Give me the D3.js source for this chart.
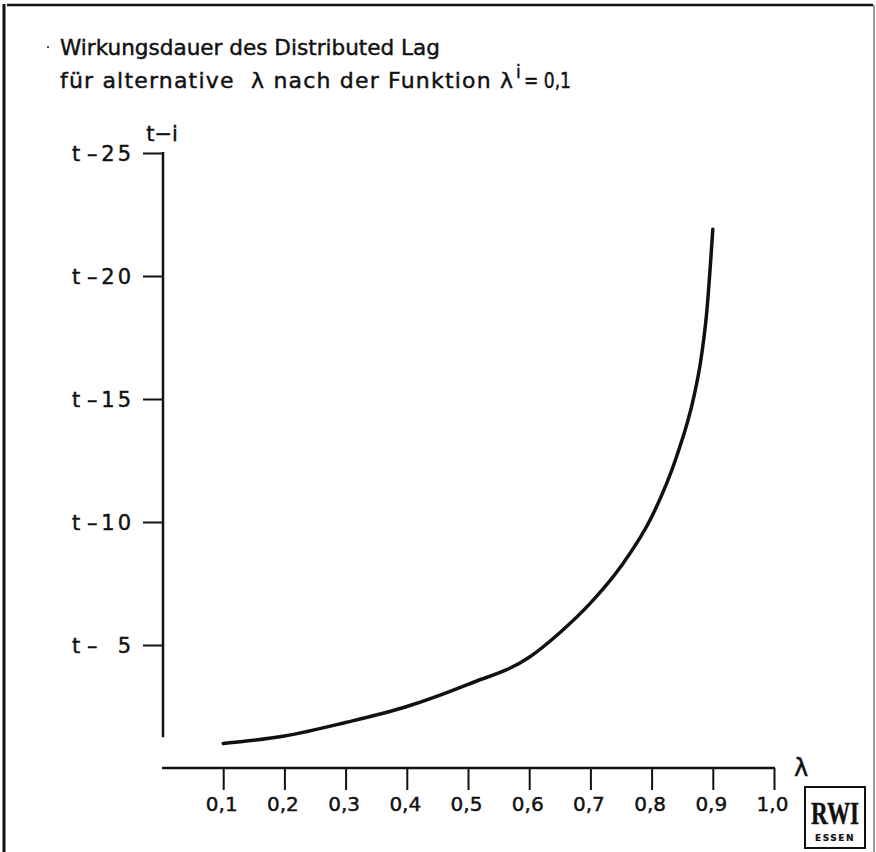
<!DOCTYPE html>
<html>
<head>
<meta charset="utf-8">
<script src="https://cdn.jsdelivr.net/npm/d3@7"></script>
<style>
  body { margin: 0; background: #fff; }
  svg { display: block; }
  text { font-family: "DejaVu Sans", sans-serif; fill: #111; stroke: #111; stroke-width: 0.45px; }
</style>
</head>
<body>
<div id="chart"></div>
<script>
// Values: lambda -> lag length i (lambda^i = 0,1).
const lambdas = [0.1, 0.2, 0.3, 0.4, 0.5, 0.6, 0.65, 0.7, 0.75, 0.8, 0.84, 0.87, 0.88, 0.89, 0.9];
const lags = [1.0, 1.3, 1.85, 2.5, 3.4, 4.5, 5.5, 6.7, 8.2, 10.2, 12.6, 15.2, 16.5, 18.5, 21.9];

const xTicks = [0.1, 0.2, 0.3, 0.4, 0.5, 0.6, 0.7, 0.8, 0.9, 1.0];
const xTickLabels = ['0,1', '0,2', '0,3', '0,4', '0,5', '0,6', '0,7', '0,8', '0,9', '1,0'];
const yTicks = [5, 10, 15, 20, 25];
const yTickLabels = ['5', '10', '15', '20', '25'];

const titleLine1 = 'Wirkungsdauer des Distributed Lag';
const titleLine2 = 'für alternative  λ nach der Funktion λ';

const width = 876;
const height = 852;
const ink = '#111';

const svg = d3.select('#chart')
  .append('svg')
  .attr('width', width)
  .attr('height', height);

// Frame round the figure.
svg.append('line').attr('x1', 4).attr('y1', 4).attr('x2', 4).attr('y2', height)
  .attr('stroke', ink).attr('stroke-width', 3);
svg.append('line').attr('x1', 7).attr('y1', 5).attr('x2', 873).attr('y2', 5)
  .attr('stroke', ink).attr('stroke-width', 2.5);
svg.append('line').attr('x1', 874).attr('y1', 5).attr('x2', 874).attr('y2', height)
  .attr('stroke', '#777').attr('stroke-width', 1.5);

// Scales.
const x = d3.scaleLinear().domain([0, 1]).range([162, 774]);
const y = d3.scaleLinear().domain([0, 25]).range([768, 153]);

// Title (fitted to the widths of the original lines).
svg.append('text')
  .attr('x', 60).attr('y', 55)
  .attr('textLength', 380)
  .attr('lengthAdjust', 'spacingAndGlyphs')
  .style('font-size', '22px')
  .text(titleLine1);
svg.append('circle').attr('cx', 48).attr('cy', 47).attr('r', 1).attr('fill', ink);

svg.append('text')
  .attr('x', 60).attr('y', 88)
  .attr('textLength', 453)
  .attr('lengthAdjust', 'spacing')
  .style('font-size', '22px')
  .style('white-space', 'pre')
  .text(titleLine2);
svg.append('text')
  .attr('x', 516).attr('y', 78)
  .style('font-size', '17px')
  .text('i');
svg.append('text')
  .attr('x', 524).attr('y', 88)
  .attr('textLength', 47)
  .attr('lengthAdjust', 'spacingAndGlyphs')
  .style('font-size', '22px')
  .text('= 0,1');

// Y axis.
const yAxis = d3.axisLeft(y)
  .tickValues(yTicks)
  .tickSize(20)
  .tickSizeOuter(0)
  .tickPadding(0);

const yG = svg.append('g')
  .attr('transform', `translate(${x(0) + 1},0)`)
  .call(yAxis);
yG.select('.domain').remove();
yG.selectAll('.tick line').attr('stroke', ink).attr('stroke-width', 2);
yG.selectAll('.tick text').remove();
yG.selectAll('.tick').each(function (d, i) {
  const g = d3.select(this);
  g.append('text')
    .attr('x', -91).attr('dy', '0.35em')
    .attr('text-anchor', 'start')
    .style('font-size', '21px')
    .text('t –');
  g.append('text')
    .attr('x', -29).attr('dy', '0.35em')
    .attr('text-anchor', 'end')
    .style('font-size', '21px')
    .style('letter-spacing', '3px')
    .text(yTickLabels[i]);
});

svg.append('line')
  .attr('x1', x(0) + 1).attr('x2', x(0) + 1)
  .attr('y1', y(25) - 1).attr('y2', y(1.25))
  .attr('stroke', ink).attr('stroke-width', 2.5);

svg.append('text')
  .attr('x', x(0)).attr('y', 141)
  .attr('text-anchor', 'middle')
  .style('font-size', '21px')
  .text('t−i');

// X axis.
const xAxis = d3.axisBottom(x)
  .tickValues(xTicks)
  .tickSize(22)
  .tickSizeOuter(0)
  .tickPadding(7)
  .tickFormat((d, i) => xTickLabels[i]);

const xG = svg.append('g')
  .attr('transform', `translate(0,${y(0)})`)
  .call(xAxis);
xG.select('.domain').remove();
xG.selectAll('.tick line').attr('stroke', ink).attr('stroke-width', 2);
xG.selectAll('.tick text')
  .attr('fill', ink)
  .attr('x', -2)
  .style('font-size', '20px')
  .style('font-family', '"DejaVu Sans", sans-serif');

svg.append('line')
  .attr('x1', x(0)).attr('x2', x(1) + 1)
  .attr('y1', y(0)).attr('y2', y(0))
  .attr('stroke', ink).attr('stroke-width', 2.5);

svg.append('text')
  .attr('x', 801).attr('y', 776)
  .attr('text-anchor', 'middle')
  .style('font-size', '24px')
  .text('λ');

// Curve.
const line = d3.line()
  .x((d, i) => x(lambdas[i]))
  .y(d => y(d))
  .curve(d3.curveMonotoneX);

svg.append('path')
  .datum(lags)
  .attr('d', line)
  .attr('fill', 'none')
  .attr('stroke', ink)
  .attr('stroke-width', 3.5)
  .attr('stroke-linecap', 'round');

// RWI logo.
const logo = svg.append('g').attr('transform', 'translate(805,787)');
logo.append('rect')
  .attr('width', 60).attr('height', 61)
  .attr('fill', 'none').attr('stroke', ink).attr('stroke-width', 2);
logo.append('text')
  .attr('x', 6).attr('y', 37)
  .attr('textLength', 48)
  .attr('lengthAdjust', 'spacingAndGlyphs')
  .style('font-family', '"Liberation Serif", serif')
  .style('font-weight', 'bold')
  .style('font-size', '32px')
  .text('RWI');
logo.append('text')
  .attr('x', 30).attr('y', 54)
  .attr('text-anchor', 'middle')
  .style('font-weight', 'bold')
  .style('font-size', '9px')
  .style('stroke-width', '0.2px')
  .style('letter-spacing', '1.5px')
  .text('ESSEN');
</script>
</body>
</html>
